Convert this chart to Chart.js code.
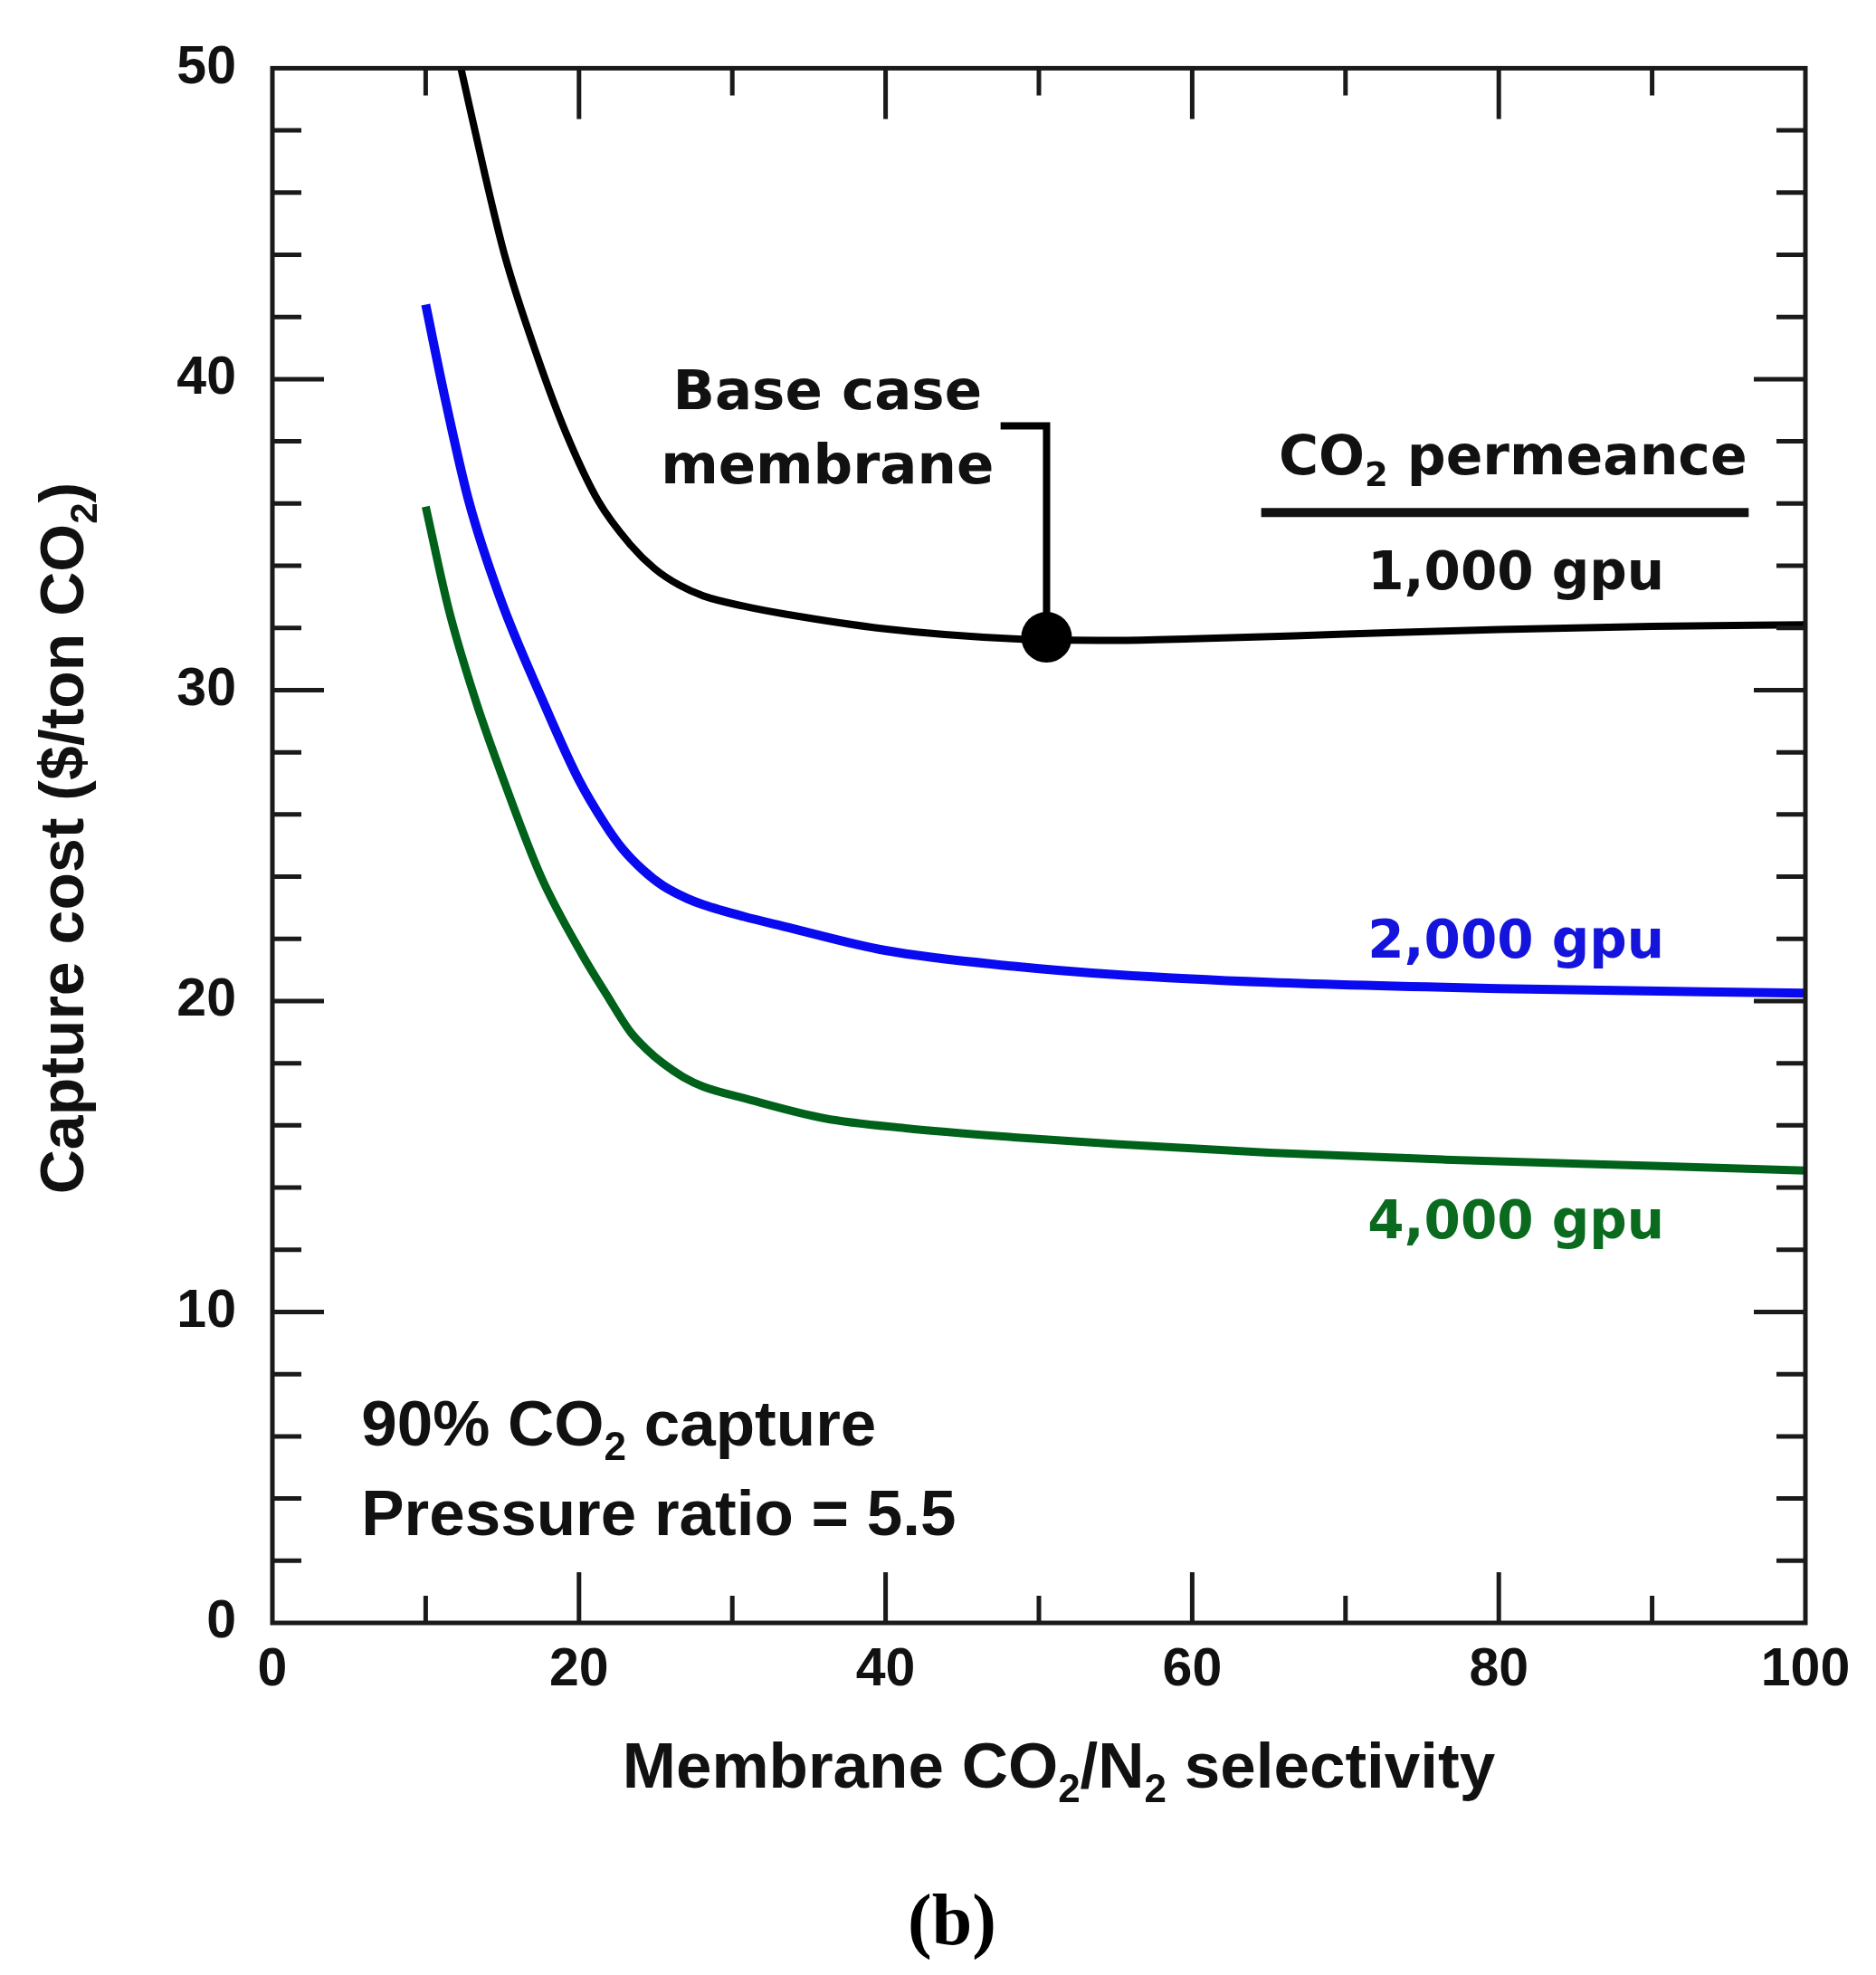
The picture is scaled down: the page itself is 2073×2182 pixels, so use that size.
<!DOCTYPE html>
<html>
<head>
    <title>Capture cost vs membrane selectivity</title>
    <script src="https://cdn.jsdelivr.net/npm/chart.js"></script>
    <style>
        html, body {
            margin: 0;
            padding: 0;
            background-color: #fff;
            overflow: hidden;
        }
        #wrap {
            width: 2073px;
            height: 2182px;
            position: relative;
        }
    </style>
</head>
<body>
    <div id="wrap"><canvas id="myChart"></canvas></div>

    <script>
        // Membrane CO2/N2 selectivity (x) and capture cost in $/ton CO2 (y)
        const sel1000 = [12.3, 13.9, 15.2, 17.3, 19.15, 21.26, 23.36, 24.95, 26.53, 28.11, 30.74, 33.38, 39.97, 48.35, 55.0, 60.0, 70.0, 80.0, 90.0, 100];
        const cost1000 = [50.0, 46.5, 43.9, 40.7, 38.27, 36.08, 34.67, 33.9, 33.38, 33.03, 32.7, 32.45, 31.97, 31.65, 31.6, 31.65, 31.8, 31.95, 32.05, 32.1];

        const sel2000 = [10.0, 11.3, 12.8, 14.9, 17.6, 19.94, 21.78, 22.83, 24.16, 25.47, 27.05, 28.1, 30.74, 33.38, 39.97, 48.35, 55.0, 65.0, 80.0, 100];
        const cost2000 = [42.4, 39.3, 36.1, 32.9, 29.7, 27.16, 25.62, 24.9, 24.22, 23.71, 23.3, 23.1, 22.72, 22.4, 21.63, 21.12, 20.85, 20.6, 20.4, 20.25];

        const sel4000 = [10.0, 11.5, 13.3, 15.2, 17.57, 20.2, 21.78, 23.36, 24.4, 25.47, 26.79, 28.1, 30.74, 36.0, 41.29, 48.35, 55.0, 65.0, 76.5, 90.0, 100];
        const cost4000 = [35.9, 32.6, 29.6, 26.95, 23.95, 21.5, 20.22, 19.0, 18.45, 18.0, 17.56, 17.25, 16.88, 16.23, 15.91, 15.62, 15.4, 15.12, 14.9, 14.7, 14.55];

        // base case membrane marker
        const baseSel = [50.5];
        const baseCost = [31.7];

        const xTicks = [0, 20, 40, 60, 80, 100];
        const yTicks = [0, 10, 20, 30, 40, 50];

        const toPoints = (xs, ys) => xs.map((x, i) => ({ x: x, y: ys[i] }));

        const SANS = '"Liberation Sans", Arial, sans-serif';
        const WIDE = '"DejaVu Sans", Verdana, sans-serif';

        // text with subscript parts: [[text, isSub], ...]
        function rich(ctx, parts, x, y, size, family, align, color) {
            const main = 'bold ' + size + 'px ' + family;
            const sub = 'bold ' + Math.round(size * 0.62) + 'px ' + family;
            let w = 0;
            parts.forEach(p => { ctx.font = p[1] ? sub : main; w += ctx.measureText(p[0]).width; });
            let cx = align === 'right' ? x - w : (align === 'center' ? x - w / 2 : x);
            ctx.fillStyle = color;
            ctx.textAlign = 'left';
            ctx.textBaseline = 'alphabetic';
            parts.forEach(p => {
                ctx.font = p[1] ? sub : main;
                ctx.fillText(p[0], cx, p[1] ? y + size * 0.22 : y);
                cx += ctx.measureText(p[0]).width;
            });
        }

        const frameAndNotes = {
            id: 'frameAndNotes',
            beforeDatasetsDraw(chart) {
                const ctx = chart.ctx, xs = chart.scales.x, ys = chart.scales.y;
                // bracket pointing at the base case membrane
                ctx.save();
                ctx.strokeStyle = '#000';
                ctx.lineWidth = 8;
                ctx.lineJoin = 'miter';
                ctx.beginPath();
                ctx.moveTo(xs.getPixelForValue(47.5), ys.getPixelForValue(38.5));
                ctx.lineTo(xs.getPixelForValue(baseSel[0]), ys.getPixelForValue(38.5));
                ctx.lineTo(xs.getPixelForValue(baseSel[0]), ys.getPixelForValue(baseCost[0]));
                ctx.stroke();
                ctx.restore();
            },
            afterDatasetsDraw(chart) {
                const ctx = chart.ctx, xs = chart.scales.x, ys = chart.scales.y;
                const { left, right, top, bottom } = chart.chartArea;
                ctx.save();
                ctx.strokeStyle = '#1a1a1a';
                ctx.lineWidth = 5;
                ctx.strokeRect(left, top, right - left, bottom - top);
                ctx.beginPath();
                for (let v = 10; v < 100; v += 10) {
                    const len = v % 20 === 0 ? 56 : 30;
                    const px = xs.getPixelForValue(v);
                    ctx.moveTo(px, bottom); ctx.lineTo(px, bottom - len);
                    ctx.moveTo(px, top); ctx.lineTo(px, top + len);
                }
                for (let v = 2; v < 50; v += 2) {
                    const len = v % 10 === 0 ? 57 : 32;
                    const py = ys.getPixelForValue(v);
                    ctx.moveTo(left, py); ctx.lineTo(left + len, py);
                    ctx.moveTo(right, py); ctx.lineTo(right - len, py);
                }
                ctx.stroke();
                ctx.restore();
            },
            afterDraw(chart) {
                const ctx = chart.ctx, xs = chart.scales.x, ys = chart.scales.y;
                const X = v => xs.getPixelForValue(v), Y = v => ys.getPixelForValue(v);
                ctx.save();
                rich(ctx, [['Base case']], X(36.2), Y(39.05), 61, WIDE, 'center', '#111');
                rich(ctx, [['membrane']], X(36.2), Y(36.66), 61, WIDE, 'center', '#111');
                rich(ctx, [['CO'], ['2', true], [' permeance']], X(96.2), Y(36.95), 60, WIDE, 'right', '#111');
                ctx.strokeStyle = '#111';
                ctx.lineWidth = 10;
                ctx.beginPath();
                ctx.moveTo(X(64.5), Y(35.71));
                ctx.lineTo(X(96.3), Y(35.71));
                ctx.stroke();
                rich(ctx, [['1,000 gpu']], X(90.8), Y(33.24), 58, WIDE, 'right', '#111');
                rich(ctx, [['2,000 gpu']], X(90.8), Y(21.4), 58, WIDE, 'right', '#1414dc');
                rich(ctx, [['4,000 gpu']], X(90.8), Y(12.36), 58, WIDE, 'right', '#0a6a1e');
                rich(ctx, [['90% CO'], ['2', true], [' capture']], X(5.8), Y(5.7), 71, SANS, 'left', '#111');
                rich(ctx, [['Pressure ratio = 5.5']], X(5.8), Y(2.82), 71, SANS, 'left', '#111');

                // axis titles
                rich(ctx, [['Membrane CO'], ['2', true], ['/N'], ['2', true], [' selectivity']], 1170, 1975, 71, SANS, 'center', '#111');
                ctx.translate(92, 926);
                ctx.rotate(-Math.PI / 2);
                rich(ctx, [['Capture cost ($/ton CO'], ['2', true], [')']], 0, 0, 68, SANS, 'center', '#111');
                ctx.restore();

                ctx.save();
                ctx.fillStyle = '#000';
                ctx.font = 'bold 80px "Liberation Serif", "Times New Roman", serif';
                ctx.textAlign = 'center';
                ctx.textBaseline = 'alphabetic';
                ctx.fillText('(b)', 1052, 2148);
                ctx.restore();
            }
        };

        const ctx = document.getElementById('myChart').getContext('2d');
        const myChart = new Chart(ctx, {
            type: 'line',
            data: {
                datasets: [
                    {
                        label: '1,000 gpu',
                        data: toPoints(sel1000, cost1000),
                        borderColor: '#000',
                        borderWidth: 8,
                        pointRadius: 0,
                        cubicInterpolationMode: 'monotone'
                    },
                    {
                        label: '2,000 gpu',
                        data: toPoints(sel2000, cost2000),
                        borderColor: '#0a0af0',
                        borderWidth: 10,
                        pointRadius: 0,
                        cubicInterpolationMode: 'monotone'
                    },
                    {
                        label: '4,000 gpu',
                        data: toPoints(sel4000, cost4000),
                        borderColor: '#00621a',
                        borderWidth: 9,
                        pointRadius: 0,
                        cubicInterpolationMode: 'monotone'
                    },
                    {
                        label: 'Base case membrane',
                        data: toPoints(baseSel, baseCost),
                        showLine: false,
                        pointRadius: 28,
                        pointBackgroundColor: '#000',
                        pointBorderColor: '#000',
                        pointBorderWidth: 0
                    }
                ]
            },
            options: {
                responsive: true,
                maintainAspectRatio: false,
                animation: false,
                layout: {
                    padding: { left: 0, top: 57, right: 78, bottom: 0 }
                },
                plugins: {
                    legend: { display: false },
                    tooltip: { enabled: false }
                },
                scales: {
                    x: {
                        type: 'linear',
                        min: 0,
                        max: 100,
                        grid: { display: false, drawTicks: false },
                        border: { display: false },
                        afterBuildTicks: s => { s.ticks = xTicks.map(v => ({ value: v })); },
                        afterFit: s => { s.height = 389; },
                        ticks: {
                            padding: 17,
                            maxRotation: 0,
                            color: '#111',
                            font: { family: SANS, size: 59, weight: 'bold' }
                        }
                    },
                    y: {
                        type: 'linear',
                        min: 0,
                        max: 50,
                        grid: { display: false, drawTicks: false },
                        border: { display: false },
                        afterBuildTicks: s => { s.ticks = yTicks.map(v => ({ value: v })); },
                        afterFit: s => { s.width = 301; },
                        ticks: {
                            padding: 40,
                            color: '#111',
                            font: { family: SANS, size: 59, weight: 'bold' }
                        }
                    }
                }
            },
            plugins: [frameAndNotes]
        });
    </script>
</body>
</html>
